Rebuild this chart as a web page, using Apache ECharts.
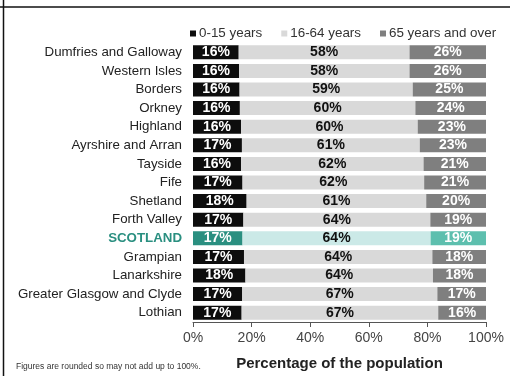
<!DOCTYPE html>
<html>
<head>
<meta charset="utf-8">
<title>Population by age group</title>
<script src="https://cdn.jsdelivr.net/npm/echarts@6/dist/echarts.min.js"></script>
<style>
  html, body { margin: 0; padding: 0; background: #fff; }
  #chart { width: 510px; height: 376px; }
</style>
</head>
<body>
<div id="chart"></div>
<script>
  // health board areas, top to bottom
  var regions = ['Dumfries and Galloway', 'Western Isles', 'Borders', 'Orkney', 'Highland',
    'Ayrshire and Arran', 'Tayside', 'Fife', 'Shetland', 'Forth Valley', 'SCOTLAND',
    'Grampian', 'Lanarkshire', 'Greater Glasgow and Clyde', 'Lothian']
  // share of population (%) - unrounded estimates, labels are rounded
  var age0to15 = [15.6, 15.7, 15.9, 16.0, 16.4, 16.7, 16.4, 16.9, 18.3, 17.2, 16.9, 17.4, 17.9, 16.8, 16.6]
  var age16to64 = [58.3, 58.2, 59.1, 59.9, 60.3, 60.7, 62.3, 62.0, 61.3, 63.8, 64.2, 64.3, 64.0, 66.6, 67.1]
  var age65plus = [26.1, 26.1, 25.0, 24.1, 23.3, 22.6, 21.3, 21.1, 20.4, 19.0, 18.9, 18.3, 18.1, 16.6, 16.3]
  var xTicks = [0, 20, 40, 60, 80, 100]

  var highlight = 'SCOTLAND'

  // turn a list of values into data items, Scotland gets its own colour
  function makeData(values, scotColor) {
    return values.map(function (v, i) {
      if (regions[i] === highlight) {
        return { value: v, itemStyle: { color: scotColor } }
      }
      return v
    })
  }

  var chart = echarts.init(document.getElementById('chart'))

  var labelBase = {
    show: true,
    position: 'inside',
    fontFamily: 'Liberation Sans',
    fontSize: 14,
    fontWeight: 'bold',
    formatter: function (p) { return Math.round(p.value) + '%' }
  }

  chart.setOption({
    animation: false,
    textStyle: { fontFamily: 'Liberation Sans' },
    legend: {
      top: 22,
      left: 185,
      width: 320,
      itemWidth: 6,
      itemHeight: 6,
      itemGap: 19,
      icon: 'rect',
      textStyle: { fontSize: 13.4, color: '#333', padding: [0, 0, 0, -2] },
      data: ['0-15 years', '16-64 years', '65 years and over']
    },
    grid: { left: 193, right: 24, top: 43, bottom: 50 },
    xAxis: {
      type: 'value',
      min: xTicks[0],
      max: xTicks[xTicks.length - 1],
      interval: xTicks[1] - xTicks[0],
      name: 'Percentage of the population',
      nameLocation: 'middle',
      nameGap: 34,
      nameTextStyle: { fontSize: 15, fontWeight: 'bold', color: '#222' },
      axisLine: { show: true, lineStyle: { color: '#555', width: 1 } },
      axisTick: { show: true, length: 5, lineStyle: { color: '#555' } },
      axisLabel: { fontSize: 14, color: '#444', margin: 9, formatter: '{value}%' },
      splitLine: { show: false }
    },
    yAxis: {
      type: 'category',
      inverse: true,
      data: regions,
      axisLine: { show: false },
      axisTick: { show: false },
      axisLabel: {
        margin: 11,
        fontSize: 13.3,
        color: '#222',
        formatter: function (v) {
          return v === highlight ? '{scot|' + v + '}' : v
        },
        rich: {
          scot: { fontSize: 13.3, fontWeight: 'bold', color: '#2a8f80' }
        }
      }
    },
    series: [
      {
        name: '0-15 years',
        type: 'bar',
        stack: 'pop',
        barWidth: 14,
        color: '#0d0d0d',
        label: Object.assign({}, labelBase, { color: '#fff' }),
        data: makeData(age0to15, '#2a8f80')
      },
      {
        name: '16-64 years',
        type: 'bar',
        stack: 'pop',
        barWidth: 14,
        color: '#d9d9d9',
        label: Object.assign({}, labelBase, { color: '#111' }),
        data: makeData(age16to64, '#cbe9e7')
      },
      {
        name: '65 years and over',
        type: 'bar',
        stack: 'pop',
        barWidth: 14,
        color: '#7f7f7f',
        label: Object.assign({}, labelBase, { color: '#fff' }),
        data: makeData(age65plus, '#5dbfae')
      }
    ],
    graphic: [
      // frame lines left over from the page crop
      { type: 'line', shape: { x1: 0, y1: 7, x2: 510, y2: 7 }, style: { stroke: '#111', lineWidth: 1.5 } },
      { type: 'line', shape: { x1: 3.5, y1: 0, x2: 3.5, y2: 376 }, style: { stroke: '#111', lineWidth: 1.5 } },
      {
        type: 'text',
        left: 16,
        top: 362,
        style: { text: 'Figures are rounded so may not add up to 100%.', fontSize: 8.5, fill: '#333', fontFamily: 'Liberation Sans' }
      }
    ]
  })
</script>
</body>
</html>
